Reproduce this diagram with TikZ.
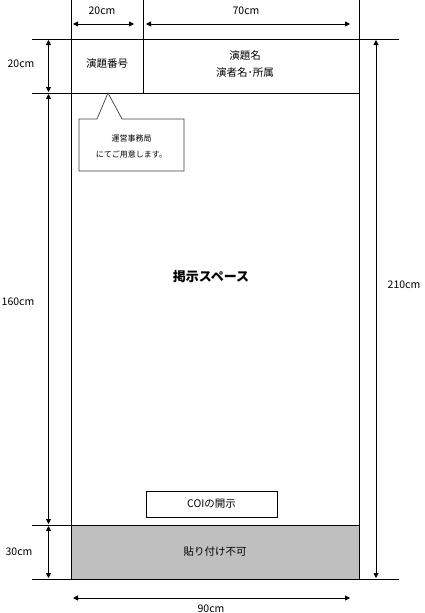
\documentclass[tikz,border=0pt]{standalone}
\usepackage{fontspec}
\setmainfont{Noto Sans CJK JP}
\usetikzlibrary{arrows.meta}
\tikzset{
  dim/.style={{Triangle[length=5pt,width=5pt]}-{Triangle[length=5pt,width=5pt]}},
  lbl/.style={inner sep=0pt,font=\fontsize{10.5}{12}\selectfont},
  small/.style={inner sep=0pt,font=\fontsize{8}{9}\selectfont}
}
\begin{document}
\begin{tikzpicture}[x=1pt,y=-1pt,line width=0.9pt]
\useasboundingbox (0,0) rectangle (425,613);
\pgfmathsetmacro{\xl}{71.5}
\pgfmathsetmacro{\xm}{143}
\pgfmathsetmacro{\xr}{359}
% frame corners
\coordinate (lt) at (\xl,0);
\coordinate (lb) at (\xl,579);
\coordinate (rt) at (\xr,0);
\coordinate (rb) at (\xr,579);
\coordinate (mt) at (\xm,0);
\coordinate (mb) at (\xm,93);
% not allowed area
\fill[gray!50] (\xl,525) rectangle (\xr,579);
\draw(lt)--(lb);
\draw(rt)--(rb);
\draw(mt)--(mb);
\draw(32,39)--(399,39);
\draw(32,93)--(\xr,93);
\draw(32,525)--(\xr,525);
\draw(32,579)--(399,579);
% dimensions
\coordinate (a1) at (73,24);  \coordinate (a2) at (134,24);
\coordinate (b1) at (146,24); \coordinate (b2) at (350,24);
\coordinate (c1) at (48.5,40); \coordinate (c2) at (48.5,92);
\coordinate (d1) at (48.5,94); \coordinate (d2) at (48.5,524);
\coordinate (e1) at (48.5,526); \coordinate (e2) at (48.5,578);
\coordinate (f1) at (376,40); \coordinate (f2) at (376,578);
\coordinate (g1) at (73,598); \coordinate (g2) at (350,598);
\draw[dim](a1)--(a2);
\draw[dim](b1)--(b2);
\draw[dim](c1)--(c2);
\draw[dim](d1)--(d2);
\draw[dim](e1)--(e2);
\draw[dim](f1)--(f2);
\draw[dim](g1)--(g2);
\node[lbl](wNo) at (102,11){20cm};
\node[lbl](wTitle) at (246,11){70cm};
\node[lbl](hHead) at (21,64){20cm};
\node[lbl](hSpace) at (18,302){160cm};
\node[lbl](hBottom) at (19,552){30cm};
\node[lbl](hAll) at (404,285){210cm};
\node[lbl](wAll) at (211,609){90cm};
% header
\node[lbl](no) at (107,64){演題番号};
\node[lbl](title) at (245,56){演題名};
\node[lbl](author) at (245,73){演者名･所属};
% callout
\draw[fill=white,line width=0.7pt,draw=black!75](79,119)--(97,119)--(108,93)--(122,119)--(184,119)--(184,171)--(79,171)--cycle;
\node[small](note1) at (131.5,138){運営事務局};
\node[small](note2) at (131.5,154){にてご用意します。};
% body
\node[inner sep=0pt,font=\fontsize{13}{15}\selectfont\bfseries](space) at (211,277){掲示スペース};
\node[lbl,draw,minimum width=131pt,minimum height=26pt](coi) at (211.5,504){COIの開示};
\node[lbl](ng) at (215,552){貼り付け不可};
\end{tikzpicture}
\end{document}
